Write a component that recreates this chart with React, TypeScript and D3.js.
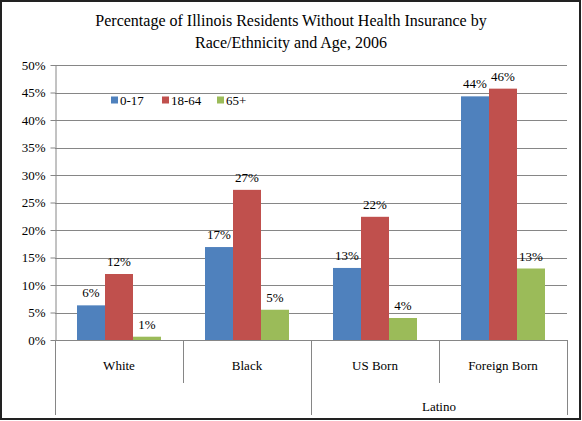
import * as d3 from 'd3';
import { useEffect, useRef } from 'react';

const categories = ['White', 'Black', 'US Born', 'Foreign Born'];
const groupLabels = ['', '', 'Latino', 'Latino'];
const series = ['0-17', '18-64', '65+'];
const values017 = [6.3, 16.9, 13.1, 44.3];
const values1864 = [12.0, 27.3, 22.4, 45.7];
const values65 = [0.6, 5.5, 4.0, 13.0];
const labels017 = ['6%', '17%', '13%', '44%'];
const labels1864 = ['12%', '27%', '22%', '46%'];
const labels65 = ['1%', '5%', '4%', '13%'];
const yTicks = [0, 5, 10, 15, 20, 25, 30, 35, 40, 45, 50];

const colors = ['#4F81BD', '#C0504D', '#9BBB59'];
const font = '"Liberation Serif", "Times New Roman", serif';

export default function App() {
    const ref = useRef<SVGSVGElement | null>(null);

    useEffect(() => {
        if (!ref.current) return;
        const svg = d3.select(ref.current);
        svg.selectAll('*').remove();

        const width = 582;
        const height = 421;
        const margin = { top: 65, right: 15, bottom: 81, left: 55 };

        // outer frame
        svg.append('rect')
            .attr('x', 1)
            .attr('y', 1)
            .attr('width', width - 3)
            .attr('height', height - 3)
            .attr('fill', 'white')
            .attr('stroke', '#222')
            .attr('stroke-width', 2);

        // title
        const title = svg.append('text')
            .attr('x', 291)
            .attr('text-anchor', 'middle')
            .style('font-family', font)
            .style('font-size', '16px')
            .attr('fill', '#000');
        title.append('tspan').attr('x', 291).attr('y', 26)
            .text('Percentage of Illinois Residents Without Health Insurance by');
        title.append('tspan').attr('x', 291).attr('y', 48)
            .text('Race/Ethnicity and Age, 2006');

        const x0 = d3.scaleBand()
            .domain(categories)
            .range([margin.left, width - margin.right])
            .paddingInner(0)
            .paddingOuter(0);
        const x1 = d3.scaleBand()
            .domain(series)
            .range([0, x0.bandwidth()])
            .paddingOuter(0.786)
            .paddingInner(0);
        const y = d3.scaleLinear()
            .domain([0, 50])
            .range([height - margin.bottom, margin.top]);

        // gridlines
        svg.append('g')
            .selectAll('line')
            .data(yTicks.slice(1))
            .join('line')
            .attr('x1', margin.left)
            .attr('x2', width - margin.right)
            .attr('y1', (d) => Math.round(y(d)) + 0.5)
            .attr('y2', (d) => Math.round(y(d)) + 0.5)
            .attr('stroke', '#868686')
            .attr('stroke-width', 1);

        // y axis
        const yAxis = svg.append('g')
            .attr('transform', `translate(${margin.left + 0.5},0)`)
            .call(
                d3.axisLeft(y)
                    .tickValues(yTicks)
                    .tickSizeInner(5)
                    .tickSizeOuter(0)
                    .tickPadding(5)
                    .tickFormat((d) => `${d}%`),
            );
        yAxis.select('.domain').attr('stroke', '#868686');
        yAxis.selectAll('line').attr('stroke', '#868686');
        yAxis.selectAll('text')
            .style('font-family', font)
            .style('font-size', '13px')
            .attr('fill', '#000');

        // bars
        const seriesValues = [values017, values1864, values65];
        const seriesLabels = [labels017, labels1864, labels65];
        const rows = categories.flatMap((c, ci) =>
            series.map((s, si) => ({
                c,
                s,
                si,
                v: seriesValues[si][ci],
                label: seriesLabels[si][ci],
            })),
        );

        svg.append('g')
            .selectAll('rect')
            .data(rows)
            .join('rect')
            .attr('x', (d) => x0(d.c)! + x1(d.s)!)
            .attr('y', (d) => y(d.v))
            .attr('width', x1.bandwidth())
            .attr('height', (d) => y(0) - y(d.v))
            .attr('fill', (d) => colors[d.si]);

        // value labels
        svg.append('g')
            .selectAll('text')
            .data(rows)
            .join('text')
            .attr('x', (d) => x0(d.c)! + x1(d.s)! + x1.bandwidth() / 2)
            .attr('y', (d) => y(d.v) - 8)
            .attr('text-anchor', 'middle')
            .style('font-family', font)
            .style('font-size', '13px')
            .attr('fill', '#000')
            .text((d) => d.label);

        // x axis baseline and category dividers
        const base = y(0);
        const ax = svg.append('g').attr('stroke', '#868686').attr('stroke-width', 1);
        ax.append('line')
            .attr('x1', margin.left)
            .attr('x2', width - margin.right)
            .attr('y1', Math.round(base) + 0.5)
            .attr('y2', Math.round(base) + 0.5);
        const edges = [...categories.map((c) => x0(c)!), width - margin.right];
        edges.forEach((ex, i) => {
            const groupEdge =
                i === 0 || i === edges.length - 1 || groupLabels[i] !== groupLabels[i - 1];
            ax.append('line')
                .attr('x1', Math.round(ex) + 0.5)
                .attr('x2', Math.round(ex) + 0.5)
                .attr('y1', base)
                .attr('y2', groupEdge ? 415 : 383);
        });

        svg.append('g')
            .selectAll('text')
            .data(categories)
            .join('text')
            .attr('x', (d) => x0(d)! + x0.bandwidth() / 2)
            .attr('y', 370)
            .attr('text-anchor', 'middle')
            .style('font-family', font)
            .style('font-size', '13px')
            .attr('fill', '#000')
            .text((d) => d);

        // group label
        const latino = categories.filter((_, i) => groupLabels[i] === 'Latino');
        svg.append('text')
            .attr('x', (x0(latino[0])! + x0(latino[latino.length - 1])! + x0.bandwidth()) / 2)
            .attr('y', 411)
            .attr('text-anchor', 'middle')
            .style('font-family', font)
            .style('font-size', '13px')
            .attr('fill', '#000')
            .text('Latino');

        // legend
        const legendX = [111, 162, 217];
        const legend = svg.append('g')
            .selectAll('g')
            .data(series)
            .join('g')
            .attr('transform', (_, i) => `translate(${legendX[i]},100)`);
        legend.append('rect')
            .attr('x', 0)
            .attr('y', -3.5)
            .attr('width', 7)
            .attr('height', 7)
            .attr('fill', (_, i) => colors[i]);
        legend.append('text')
            .attr('x', 9)
            .attr('y', 4.5)
            .style('font-family', font)
            .style('font-size', '13px')
            .attr('fill', '#000')
            .text((d) => d);
    }, []);

    return (
        <svg
            ref={ref}
            width={582}
            height={421}
            style={{ position: 'absolute', left: 0, top: 0, background: 'white' }}
        />
    );
}
